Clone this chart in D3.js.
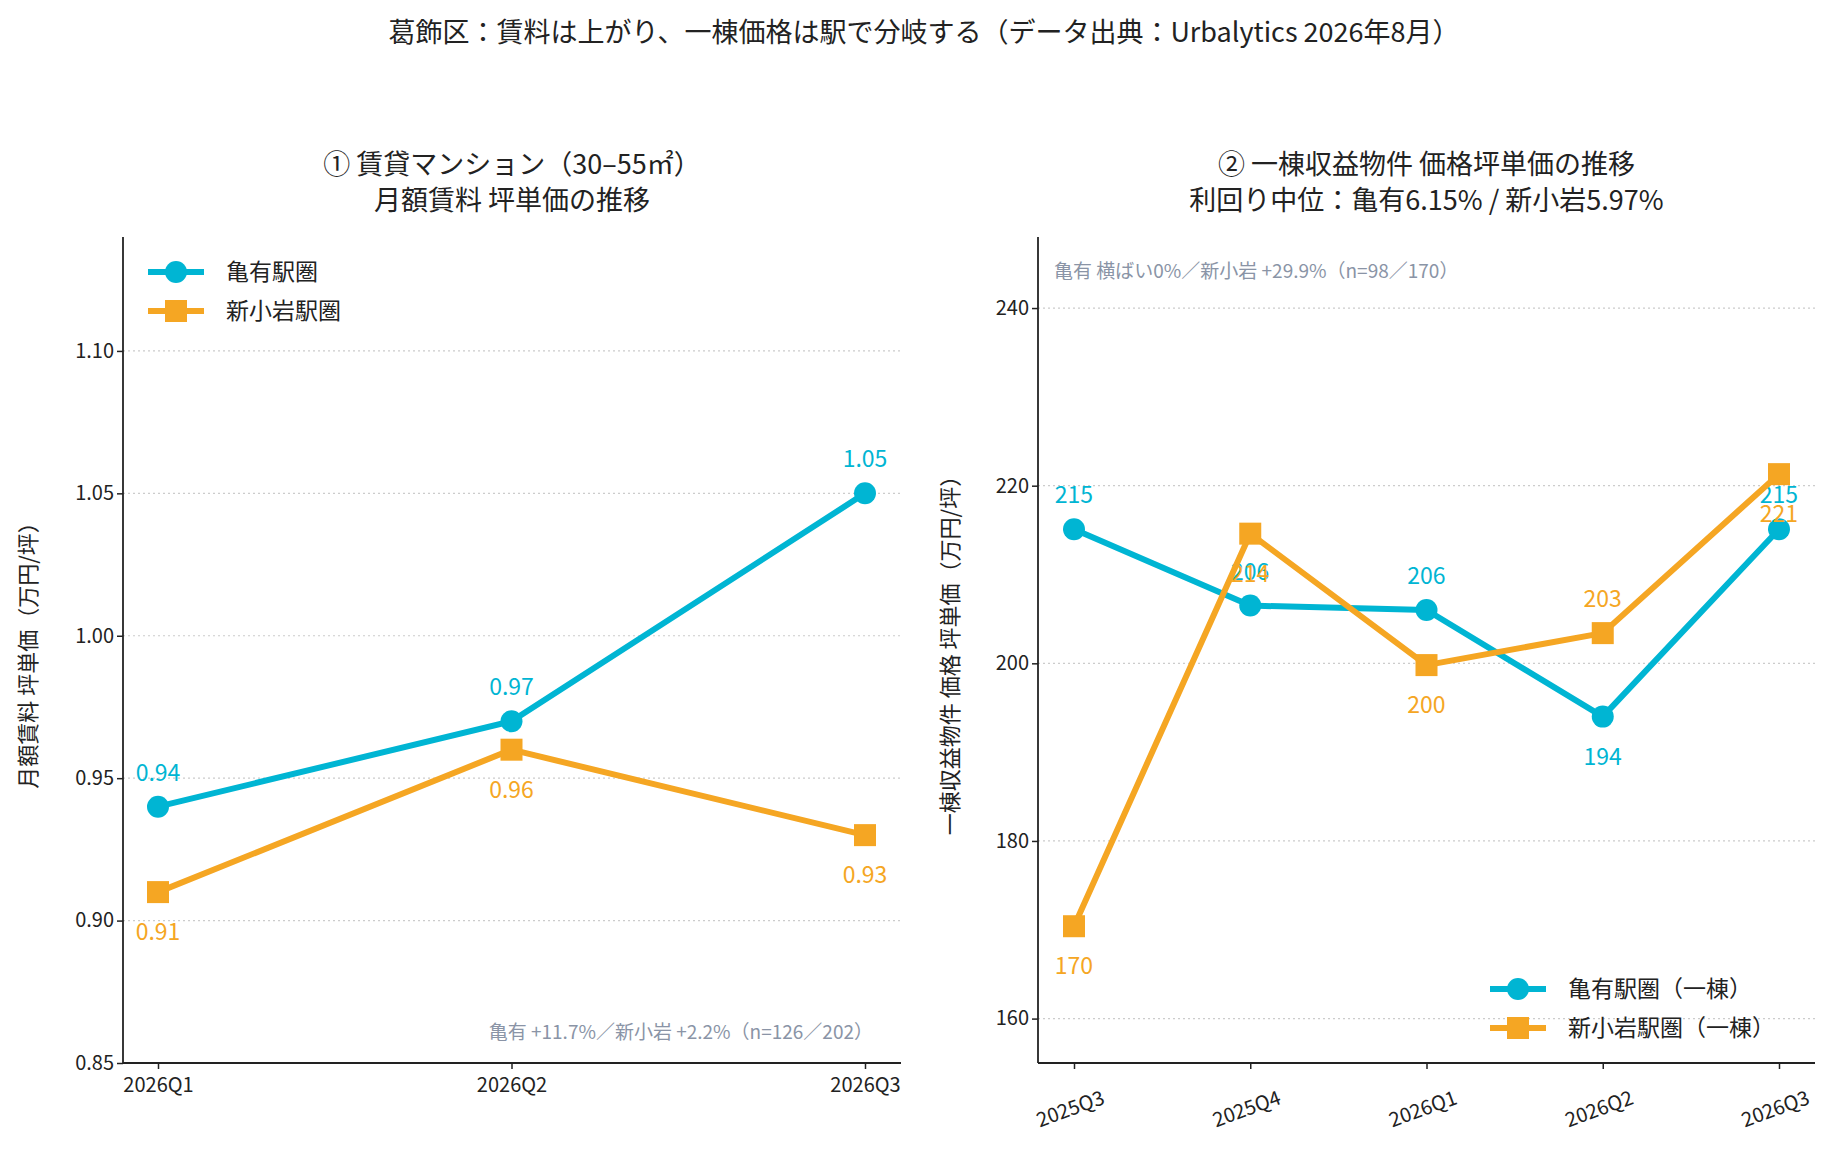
<!DOCTYPE html>
<html><head><meta charset="utf-8">
<script src="https://cdn.jsdelivr.net/npm/d3@7"></script>
<style>body{margin:0;background:#fff}text{font-family:"Noto Sans CJK JP","Noto Sans",sans-serif}</style>
</head><body><svg id="c" width="1848" height="1162"></svg>
<script>
const leftCats=["2026Q1","2026Q2","2026Q3"];
const leftKameari=[0.94,0.97,1.05];
const leftKoiwa=[0.91,0.96,0.93];
const leftTicks=[0.85,0.90,0.95,1.00,1.05,1.10];
const rightCats=["2025Q3","2025Q4","2026Q1","2026Q2","2026Q3"];
const rightKameari=[215.1,206.5,206.0,194.0,215.1];
const rightKoiwa=[170.4,214.6,199.8,203.4,221.3];
const rightKameariLabels=["215","206","206","194","215"];
const rightKoiwaLabels=["170","214","200","203","221"];
const rightKameariBelow=[false,false,false,true,false];
const rightKoiwaBelow=[true,true,true,false,true];
const rightTicks=[160,180,200,220,240];
const CY="#00b5d3",OR="#f5a623",GR="#8a94a6",TX="#222";
const svg=d3.select("#c");

svg.append("text").attr("x",924).attr("y",42).attr("text-anchor","middle")
 .attr("font-size",27).attr("fill",TX).text("葛飾区：賃料は上がり、一棟価格は駅で分岐する（データ出典：Urbalytics 2026年8月）");

function panel(o){
 const g=svg.append("g");
 const x=d3.scalePoint().domain(o.cats).range([o.x0+o.padL,o.x1-o.padR]);
 const y=d3.scaleLinear().domain(o.dom).range([o.y1,o.y0]);
 // grid
 g.selectAll(".gr").data(o.ticks).join("line").attr("x1",o.x0).attr("x2",o.x1)
  .attr("y1",d=>y(d)).attr("y2",d=>y(d)).attr("stroke","#ccc").attr("stroke-dasharray","2,3").attr("stroke-width",1.2);
 const ya=g.append("g").attr("transform",`translate(${o.x0},0)`)
  .call(d3.axisLeft(y).tickValues(o.ticks).tickFormat(o.fmt).tickSize(6));
 const xa=g.append("g").attr("transform",`translate(0,${o.y1})`)
  .call(d3.axisBottom(x).tickSize(6));
 [ya,xa].forEach(a=>{a.select(".domain").attr("stroke",TX).attr("stroke-width",1.8);
  a.selectAll(".tick line").attr("stroke",TX).attr("stroke-width",1.5);
  a.selectAll("text").attr("font-size",20).attr("fill",TX).style("font-family","Noto Sans CJK JP");});
 xa.select(".domain").attr("d",`M${o.x0},0H${o.x1}`);
 ya.select(".domain").attr("d",`M0,${o.y0}V${o.y1}`);
 if(o.rot){xa.selectAll("text").attr("text-anchor","end").attr("dy","0.35em").attr("dx","0.1em")
   .attr("transform","translate(24,26) rotate(-20)");}
 else xa.selectAll("text").attr("dy","1.0em");
 // titles
 o.title.forEach((t,i)=>g.append("text").attr("x",(o.x0+o.x1)/2).attr("y",174+i*36)
   .attr("text-anchor","middle").attr("font-size",27).attr("fill",TX).text(t));
 g.append("text").attr("transform",`translate(${o.ylx},${(o.y0+o.y1)/2}) rotate(-90)`)
  .attr("text-anchor","middle").attr("font-size",22).attr("fill",TX).text(o.ylab);
 const line=d3.line().x((d,i)=>x(o.cats[i])).y(d=>y(d));
 o.series.forEach(s=>{
  g.append("path").datum(s.v).attr("d",line).attr("fill","none").attr("stroke",s.c).attr("stroke-width",6).attr("stroke-linejoin","round");
  if(s.sq) g.selectAll(null).data(s.v).join("rect").attr("x",(d,i)=>x(o.cats[i])-11).attr("y",d=>y(d)-11)
     .attr("width",22).attr("height",22).attr("fill",s.c);
  else g.selectAll(null).data(s.v).join("circle").attr("cx",(d,i)=>x(o.cats[i])).attr("cy",d=>y(d)).attr("r",11).attr("fill",s.c);
  g.selectAll(null).data(s.v).join("text").attr("x",(d,i)=>x(o.cats[i]))
   .attr("y",(d,i)=>y(d)+(s.below[i]?48:-26)).attr("text-anchor","middle").attr("font-size",23).attr("fill",s.c)
   .text((d,i)=>s.lab[i]);
 });
 // legend
 o.series.forEach((s,i)=>{
  const lx=o.lx, ly=o.ly+i*39;
  g.append("line").attr("x1",lx).attr("x2",lx+56).attr("y1",ly).attr("y2",ly).attr("stroke",s.c).attr("stroke-width",6);
  if(s.sq) g.append("rect").attr("x",lx+17).attr("y",ly-11).attr("width",22).attr("height",22).attr("fill",s.c);
  else g.append("circle").attr("cx",lx+28).attr("cy",ly).attr("r",11).attr("fill",s.c);
  g.append("text").attr("x",lx+78).attr("y",ly+8).attr("font-size",23).attr("fill",TX).text(s.name);
 });
 g.append("text").attr("x",o.ax).attr("y",o.ay).attr("text-anchor",o.aa).attr("font-size",19).attr("fill",GR).text(o.ann);
}

panel({cats:leftCats,dom:[0.85,1.14],ticks:leftTicks,fmt:d3.format(".2f"),x0:123,x1:901,y0:237,y1:1063,padL:35,padR:36,
 title:["① 賃貸マンション（30–55㎡）","月額賃料 坪単価の推移"],ylab:"月額賃料 坪単価（万円/坪）",ylx:36,
 series:[{v:leftKameari,c:CY,sq:false,name:"亀有駅圏",lab:leftKameari.map(d3.format(".2f")),below:[false,false,false]},
         {v:leftKoiwa,c:OR,sq:true,name:"新小岩駅圏",lab:leftKoiwa.map(d3.format(".2f")),below:[true,true,true]}],
 lx:148,ly:272,ann:"亀有 +11.7%／新小岩 +2.2%（n=126／202）",ax:873,ay:1039,aa:"end"});

panel({cats:rightCats,dom:[155,248],ticks:rightTicks,fmt:d3.format("d"),x0:1038,x1:1815,y0:237,y1:1063,padL:36,padR:36,rot:true,
 title:["② 一棟収益物件 価格坪単価の推移","利回り中位：亀有6.15% / 新小岩5.97%"],ylab:"一棟収益物件 価格 坪単価（万円/坪）",ylx:958,
 series:[{v:rightKameari,c:CY,sq:false,name:"亀有駅圏（一棟）",lab:rightKameariLabels,below:rightKameariBelow},
         {v:rightKoiwa,c:OR,sq:true,name:"新小岩駅圏（一棟）",lab:rightKoiwaLabels,below:rightKoiwaBelow}],
 lx:1490,ly:989,ann:"亀有 横ばい0%／新小岩 +29.9%（n=98／170）",ax:1054,ay:278,aa:"start"});
</script></body></html>
